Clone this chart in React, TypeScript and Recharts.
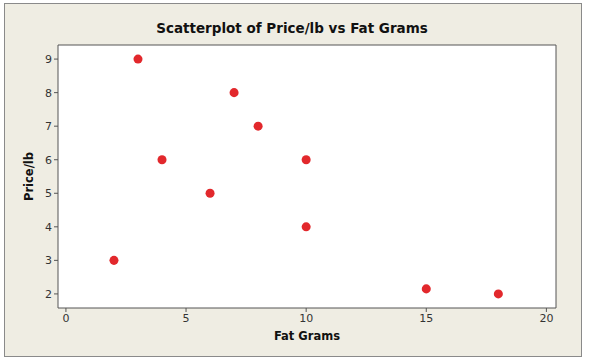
import { ScatterChart, Scatter, XAxis, YAxis, ZAxis, CartesianGrid, ReferenceLine } from 'recharts';

const fatGrams = [2, 3, 4, 6, 7, 8, 10, 10, 15, 18];
const pricePerLb = [3, 9, 6, 5, 8, 7, 6, 4, 2.15, 2];
const xTicks = [0, 5, 10, 15, 20];
const yTicks = [2, 3, 4, 5, 6, 7, 8, 9];

const data = fatGrams.map((f, i) => ({ fat: f, price: pricePerLb[i] }));

const X_DOMAIN: [number, number] = [-0.33, 20.4];
const Y_DOMAIN: [number, number] = [1.58, 9.42];
const font = 'Verdana, "DejaVu Sans", sans-serif';

export default function App() {
    return (
        <div style={{ position: 'absolute', left: 0, top: 0, width: 600, height: 364, background: '#fff' }}>
            <div
                style={{
                    position: 'absolute',
                    left: 4,
                    top: 3,
                    width: 576,
                    height: 352,
                    background: '#efede3',
                    border: '1px solid #8a8a8a',
                }}
            />
            <div style={{ position: 'absolute', left: 0, top: 0 }}>
                <ScatterChart width={600} height={364} margin={{ top: 45, right: 44, bottom: 26, left: 28 }}>
                    <text x={292} y={33} textAnchor="middle" fontFamily={font} fontWeight="bold" fontSize={13.5} fill="#111">
                        Scatterplot of Price/lb vs Fat Grams
                    </text>
                    <CartesianGrid horizontal={false} vertical={false} fill="#fff" />
                    <XAxis
                        type="number"
                        dataKey="fat"
                        domain={X_DOMAIN}
                        ticks={xTicks}
                        allowDataOverflow
                        height={30}
                        tickSize={4}
                        stroke="#555"
                        tick={{ fill: '#333', fontSize: 11, fontFamily: font }}
                        label={{ value: 'Fat Grams', position: 'insideBottom', offset: -2, fontFamily: font, fontSize: 11.5, fontWeight: 'bold', fill: '#111' }}
                    />
                    <YAxis
                        type="number"
                        dataKey="price"
                        domain={Y_DOMAIN}
                        ticks={yTicks}
                        allowDataOverflow
                        width={30}
                        tickSize={4}
                        stroke="#555"
                        tick={{ fill: '#333', fontSize: 11, fontFamily: font }}
                        label={{ value: 'Price/lb', angle: -90, position: 'insideLeft', offset: 1, fontFamily: font, fontSize: 11.5, fontWeight: 'bold', fill: '#111', style: { textAnchor: 'middle' } }}
                    />
                    <ZAxis range={[50, 50]} />
                    <ReferenceLine y={Y_DOMAIN[1]} stroke="#555" />
                    <ReferenceLine x={X_DOMAIN[1]} stroke="#555" />
                    <Scatter data={data} fill="#e2282c" shape="circle" isAnimationActive={false} />
                </ScatterChart>
            </div>
        </div>
    );
}
